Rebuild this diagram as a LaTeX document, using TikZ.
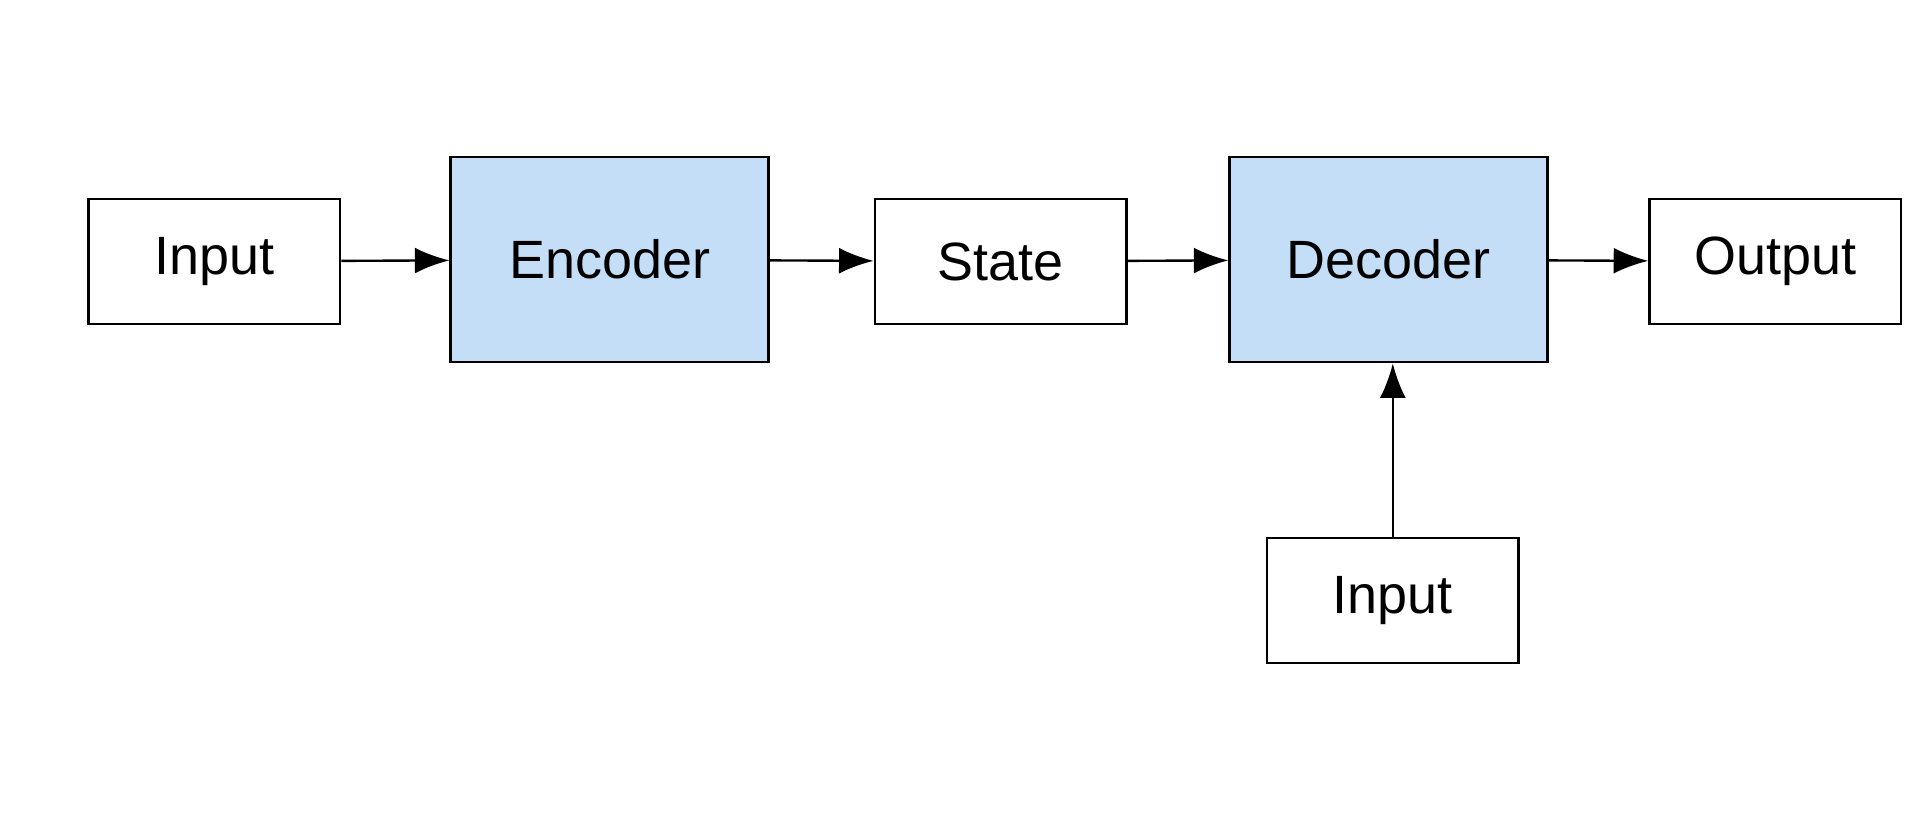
\documentclass[tikz,border=0pt]{standalone}
\usepackage{fontspec}
\setmainfont{Liberation Sans}
\usetikzlibrary{arrows.meta}
\definecolor{blockblue}{RGB}{197,222,248}

\begin{document}
\begin{tikzpicture}[
  box/.style={draw=black, line width=0.55pt, minimum width=2.05cm, minimum height=1.02cm, font=\fontsize{12.5}{14}\selectfont},
  coder/.style={box, fill=blockblue, minimum width=2.59cm, minimum height=1.67cm},
  flow/.style={-{Latex[length=8pt,width=6pt]}, line width=0.55pt}
]
\useasboundingbox (0,0) rectangle (15.68,6.65);
\node[box]   (input)   at (1.745,4.52) {Input};
\node[coder] (encoder) at (4.965,4.535) {Encoder};
\node[box]   (state)   at (8.15,4.52) {State};
\node[coder] (decoder) at (11.31,4.535) {Decoder};
\node[box]   (output)  at (14.46,4.52) {Output};
\node[box]   (input2)  at (11.345,1.76) {Input};
\draw[flow] (input) -- (encoder);
\draw[flow] (encoder) -- (state);
\draw[flow] (state) -- (decoder);
\draw[flow] (decoder) -- (output);
\draw[flow] (input2) -- (input2 |- decoder.south);
\end{tikzpicture}
\end{document}
